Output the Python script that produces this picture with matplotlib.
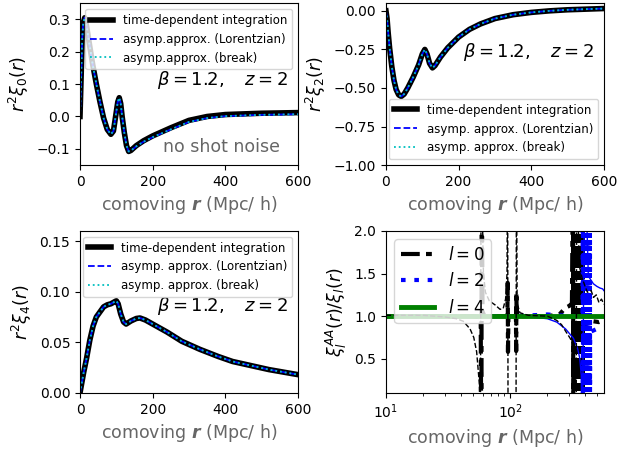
import numpy as np
import matplotlib
matplotlib.use('Agg')
import matplotlib.pyplot as plt

# r^2 xi_l(r)
r0 = [0, 3, 6, 9, 13, 18, 25, 35, 45, 55, 60, 65, 75, 85, 92, 98, 104, 108, 112,
      116, 122, 128, 134, 140, 155, 175, 200, 250, 300, 350, 400, 500, 600]
xi0_td = [0, 0.12, 0.24, 0.29, 0.305, 0.28, 0.23, 0.16, 0.10, 0.045, 0.02, -0.005,
          -0.04, -0.055, -0.045, 0.0, 0.045, 0.058, 0.04, 0.0, -0.05, -0.09, -0.108,
          -0.105, -0.09, -0.075, -0.06, -0.035, -0.012, 0.0, 0.006, 0.01, 0.012]
xi0_aa = [0, 0.12, 0.24, 0.29, 0.305, 0.28, 0.23, 0.16, 0.10, 0.045, 0.02, -0.005,
          -0.04, -0.055, -0.045, 0.0, 0.045, 0.058, 0.04, 0.0, -0.05, -0.09, -0.108,
          -0.106, -0.092, -0.078, -0.064, -0.04, -0.017, -0.005, 0.001, 0.005, 0.007]

r2 = [0, 3, 6, 10, 16, 22, 28, 35, 42, 50, 60, 75, 90, 100, 107, 113, 120, 128,
      135, 150, 170, 200, 230, 260, 300, 350, 400, 450, 500, 600]
xi2_td = [0, -0.05, -0.14, -0.24, -0.36, -0.45, -0.51, -0.545, -0.555, -0.54, -0.5,
          -0.43, -0.35, -0.28, -0.25, -0.28, -0.34, -0.37, -0.355, -0.3, -0.24,
          -0.17, -0.12, -0.085, -0.05, -0.025, -0.01, 0.0, 0.007, 0.015]

r4 = [0, 5, 10, 18, 27, 36, 45, 55, 65, 75, 85, 95, 100, 105, 112, 120, 127, 140,
      155, 165, 180, 200, 240, 280, 330, 380, 420, 470, 520, 600]
xi4_td = [0, 0.01, 0.02, 0.034, 0.052, 0.066, 0.075, 0.08, 0.085, 0.087, 0.088,
          0.09, 0.091, 0.088, 0.078, 0.07, 0.068, 0.071, 0.0735, 0.074, 0.072,
          0.068, 0.06, 0.051, 0.043, 0.036, 0.031, 0.027, 0.023, 0.018]

# ratio xi^AA / xi; values off the axis mark the poles
rr_l0a = [10, 30, 50, 56, 58, 58.8, 59.0, 60, 62, 70, 90, 95, 95.8, 96.2, 97, 105,
          111.5, 112, 112.4, 113, 130, 200, 250, 280, 300, 315,
          322, 323, 324, 325, 326, 327, 328, 329, 330, 331, 332, 333, 334, 335,
          336, 337, 338, 339, 340, 341, 342, 343, 344, 345, 346, 347, 348, 349,
          350, 351, 352, 353, 354, 355, 356, 357, 358, 359, 360, 361, 362, 363,
          364, 365, 366, 367, 368, 369, 370, 371, 372, 373, 374, 375, 376, 377,
          378, 379, 380, 381, 382, 383, 384, 385, 386, 390, 420, 470, 520, 570]
ra_l0a = [1.0, 1.0, 1.0, 0.99, 0.95, -1, 3, 1.05, 1.01, 1.0, 1.0, 1.0, 1.39, 0.58,
          1.0, 1.0, 1.0, 0.59, 1.28, 1.0, 1.0, 1.0, 1.02, 1.1, 1.12, 1.15,
          3, -1, 3, -1, 3, -1, 3, -1, 3, -1, 3, -1, 3, -1, 3, -1, 3, -1, 3, -1,
          3, -1, 3, -1, 3, -1, 3, -1, 3, -1, 3, -1, 3, -1, 3, -1, 3, -1, 3, -1,
          3, -1, 3, -1, 3, -1, 3, -1, 3, -1, 3, -1, 3, -1, 3, -1, 3, -1, 3, -1,
          3, -1, 3, -1, 0.85, 0.88, 0.92, 0.94, 0.93, 0.95]
rr_l0b = [10, 20, 30, 37, 42, 47.6, 51, 53.8, 56.6, 57.5, 58.5, 61, 63.3, 68, 76,
          83, 88, 92, 94.5, 95.5, 96.5, 104, 111.5, 112.5, 114, 120, 140, 200,
          238, 260, 284, 305, 324, 333, 340, 345, 360, 380, 400, 420, 450, 470,
          495, 520, 545, 570]
ra_l0b = [1.01, 1.01, 0.99, 0.97, 0.94, 0.85, 0.75, 0.58, 0.2, -1, 3, 1.5, 1.28,
          1.18, 1.13, 1.08, 1.09, 1.2, 1.5, 3, -1, -2, -1, 3, 1.15, 1.04, 1.01,
          1.0, 0.95, 0.9, 0.81, 0.74, 0.66, 0.43, -1, 3, 1.6, 1.45, 1.36, 1.28,
          1.3, 1.22, 1.25, 1.16, 1.2, 1.14]
rr_l2a = [10, 100, 150, 200, 250, 300, 350, 383,
          386, 387, 388, 389, 390, 391, 392, 393, 394, 395, 396, 397, 398, 399,
          400, 401, 402, 403, 404, 405, 406, 407, 408, 409, 410, 411, 412, 413,
          414, 415, 416, 417, 418, 419, 420, 421, 422, 423, 424, 425, 426, 427,
          428, 429, 430, 431, 432, 433, 434, 435, 436, 437, 438, 439, 440, 441,
          442, 445, 450, 500, 570]
ra_l2a = [1.0, 1.0, 1.01, 1.02, 1.01, 1.0, 1.0, 1.0,
          3, -1, 3, -1, 3, -1, 3, -1, 3, -1, 3, -1, 3, -1, 3, -1, 3, -1, 3, -1,
          3, -1, 3, -1, 3, -1, 3, -1, 3, -1, 3, -1, 3, -1, 3, -1, 3, -1, 3, -1,
          3, -1, 3, -1, 3, -1, 3, -1, 3, -1, 3, -1, 3, -1, 3, -1,
          0.75, 0.8, 0.82, 0.85, 0.88]
rr_l2b = [10, 100, 150, 200, 238, 280, 324, 350, 364, 375, 380, 400, 427, 469,
          500, 530, 557, 570]
ra_l2b = [1.0, 1.0, 0.99, 0.97, 0.93, 0.85, 0.74, 0.62, 0.51, 0.3, -1, 3, 1.47,
          1.38, 1.35, 1.33, 1.32, 1.3]
rr_l4 = [10, 100, 300, 570]
ra_l4 = [1.0, 1.0, 1.0, 1.0]

gray = '0.4'
xlab = r'comoving $\boldsymbol{r}$ (Mpc/ h)'
betaz = r'$\beta=1.2,\quad z=2$'

fig, axs = plt.subplots(2, 2, figsize=(6.35, 4.5), dpi=100)
plt.subplots_adjust(left=0.126, right=0.951, bottom=0.127, top=0.993,
                    wspace=0.404, hspace=0.407)

# xi_0
ax = axs[0, 0]
ax.plot(r0, xi0_td, 'k-', lw=4, label='time-dependent integration')
ax.plot(r0, xi0_aa, 'b--', lw=1.3, label='asymp.approx. (Lorentzian)')
ax.plot(r0, xi0_aa, 'c:', lw=1.3, label='asymp.approx. (break)')
ax.set_xlim(0, 600)
ax.set_ylim(-0.15, 0.35)
ax.set_ylabel(r'$r^2\xi_0(r)$', fontsize=12.5)
ax.set_xlabel(xlab, fontsize=12.5, color=gray)
ax.legend(loc='upper right', fontsize=8.5)
ax.text(0.955, 0.525, betaz, transform=ax.transAxes, fontsize=13,
        ha='right', va='center')
ax.text(0.92, 0.11, 'no shot noise', transform=ax.transAxes, fontsize=12.5,
        ha='right', va='center', color=gray)

# xi_2
ax = axs[0, 1]
ax.plot(r2, xi2_td, 'k-', lw=4, label='time-dependent integration')
ax.plot(r2, xi2_td, 'b--', lw=1.3, label='asymp. approx. (Lorentzian)')
ax.plot(r2, xi2_td, 'c:', lw=1.3, label='asymp. approx. (break)')
ax.set_xlim(0, 600)
ax.set_ylim(-1.0, 0.05)
ax.set_ylabel(r'$r^2\xi_2(r)$', fontsize=12.5)
ax.set_xlabel(xlab, fontsize=12.5, color=gray)
ax.legend(loc='lower right', fontsize=8.5)
ax.text(0.955, 0.70, betaz, transform=ax.transAxes, fontsize=13,
        ha='right', va='center')

# xi_4
ax = axs[1, 0]
ax.plot(r4, xi4_td, 'k-', lw=4, label='time-dependent integration')
ax.plot(r4, xi4_td, 'b--', lw=1.3, label='asymp. approx. (Lorentzian)')
ax.plot(r4, xi4_td, 'c:', lw=1.3, label='asymp. approx. (break)')
ax.set_xlim(0, 600)
ax.set_ylim(0, 0.16)
ax.set_ylabel(r'$r^2\xi_4(r)$', fontsize=12.5)
ax.set_xlabel(xlab, fontsize=12.5, color=gray)
ax.legend(loc='upper right', fontsize=8.5)
ax.text(0.955, 0.537, betaz, transform=ax.transAxes, fontsize=13,
        ha='right', va='center')

# ratios
ax = axs[1, 1]
ax.plot(rr_l0a, ra_l0a, 'k', lw=3, dashes=(4.5, 1.5, 1.4, 1.5), label=r'$l=0$')
ax.plot(rr_l2a, ra_l2a, 'b', lw=3, dashes=(1.1, 2.1), label=r'$l=2$')
ax.plot(rr_l2b, ra_l2b, 'b-', lw=1)
ax.plot(rr_l4, ra_l4, 'g-', lw=3.5, label=r'$l=4$')
ax.plot(rr_l0b, ra_l0b, 'k--', lw=1)
ax.set_xscale('log')
ax.set_xlim(10, 570)
ax.set_ylim(0.1, 2.0)
ax.set_yticks([0.5, 1.0, 1.5, 2.0])
ax.set_ylabel(r'$\xi_l^{AA}(r)/\xi_l(r)$', fontsize=12.5)
ax.set_xlabel(xlab, fontsize=12.5, color=gray)
ax.legend(loc='upper left', fontsize=12)

fig.savefig('out.png', dpi=100)
